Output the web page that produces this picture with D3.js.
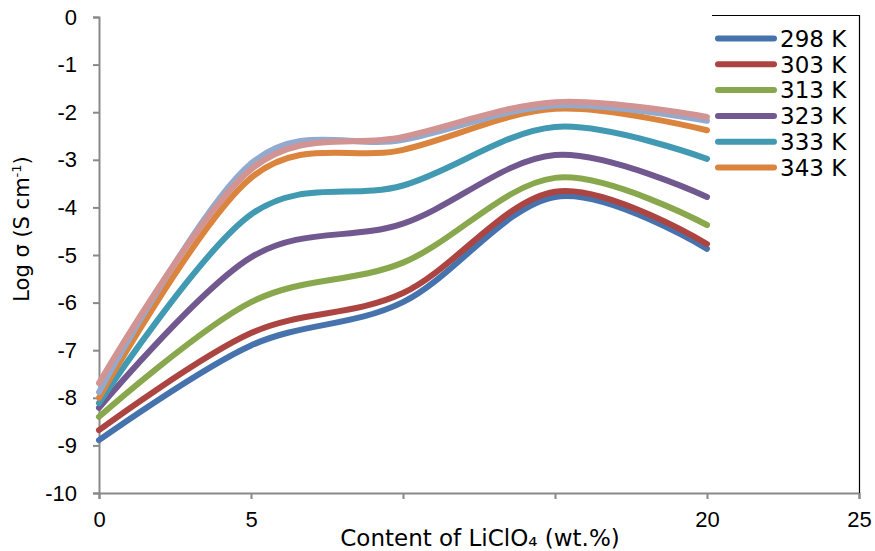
<!DOCTYPE html>
<html>
<head>
<meta charset="utf-8">
<script src="https://cdn.jsdelivr.net/npm/d3@7"></script>
<style>
  html, body { margin: 0; padding: 0; background: #fff; }
  svg { display: block; font-family: "DejaVu Sans", Verdana, sans-serif; }
</style>
</head>
<body>
<svg id="chart" width="875" height="551"></svg>
<script>
// LiClO4 content (wt.%) at which conductivity was measured
const content = [0, 5, 10, 15, 20];

// log conductivity (S cm^-1) for each temperature
const t298 = [-8.89, -6.90, -5.99, -3.78, -4.87];
const t303 = [-8.68, -6.64, -5.80, -3.67, -4.77];
const t313 = [-8.40, -5.99, -5.16, -3.38, -4.37];
const t323 = [-8.21, -5.05, -4.34, -2.90, -3.78];
const t333 = [-8.11, -4.15, -3.54, -2.31, -2.98];
const t343 = [-8.00, -3.38, -2.79, -1.93, -2.38];
const extraA = [-7.88, -3.08, -2.58, -1.86, -2.18];
const extraB = [-7.69, -3.20, -2.52, -1.79, -2.10];

const seriesNames = ["298 K", "303 K", "313 K", "323 K", "333 K", "343 K", "", ""];
const seriesValues = [t298, t303, t313, t323, t333, t343, extraA, extraB];
const seriesColors = ["#4673AE", "#AC4542", "#89A84D", "#715990", "#4199B2", "#DB843D", "#93AACF", "#D19493"];
const inLegend = [true, true, true, true, true, true, false, false];

const xTicks = [0, 5, 10, 15, 20, 25];
const xTickLabels = ["0", "5", "", "", "20", "25"];
const yTicks = [0, -1, -2, -3, -4, -5, -6, -7, -8, -9, -10];

const svg = d3.select("#chart");
const plotLeft = 99, plotRight = 859, plotTop = 17, plotBottom = 493;

const x = d3.scaleLinear().domain([0, 25]).range([plotLeft, plotRight]);
const y = d3.scaleLinear().domain([-10, 0]).range([plotBottom, plotTop]);

const axisColor = "#898989";

// y axis
const yAxis = svg.append("g")
  .attr("transform", `translate(${plotLeft},0)`)
  .call(d3.axisLeft(y).tickValues(yTicks).tickSize(6).tickPadding(16)
        .tickFormat(d => String(d)));
// x axis
const xAxis = svg.append("g")
  .attr("transform", `translate(0,${plotBottom})`)
  .call(d3.axisBottom(x).tickValues(xTicks).tickSize(6).tickPadding(12)
        .tickFormat((d, i) => xTickLabels[i]));

[yAxis, xAxis].forEach(g => {
  g.select(".domain").attr("stroke", axisColor).attr("stroke-width", 2);
  g.selectAll(".tick line").attr("stroke", axisColor).attr("stroke-width", 2);
  g.selectAll(".tick text").attr("fill", "#000").style("font-size", "22px");
});

// legend frame (top and right edges)
svg.append("path")
  .attr("d", `M712,15.5 H859.5 V${plotBottom}`)
  .attr("fill", "none").attr("stroke", "#000").attr("stroke-width", 1.2);

// smoothed curves
const line = d3.line()
  .x((d, i) => x(content[i]))
  .y(d => y(d))
  .curve(d3.curveCardinal.tension(0));

svg.append("g").selectAll("path")
  .data(seriesValues)
  .join("path")
  .attr("d", d => line(d))
  .attr("fill", "none")
  .attr("stroke", (d, i) => seriesColors[i])
  .attr("stroke-width", 6)
  .attr("stroke-linecap", "round")
  .attr("stroke-linejoin", "round");

// legend
const legendItems = seriesNames.map((n, i) => ({ n, c: seriesColors[i] })).filter((d, i) => inLegend[i]);
const lg = svg.append("g").selectAll("g").data(legendItems).join("g")
  .attr("transform", (d, i) => `translate(0,${38.5 + i * 25.8})`);
lg.append("line")
  .attr("x1", 718).attr("x2", 774).attr("y1", 0).attr("y2", 0)
  .attr("stroke", d => d.c).attr("stroke-width", 6).attr("stroke-linecap", "round");
lg.append("text")
  .attr("x", 780).attr("y", 0).attr("dy", "0.36em")
  .style("font-size", "23px")
  .text(d => d.n);

// axis titles
svg.append("text")
  .attr("x", 480).attr("y", 546)
  .attr("text-anchor", "middle")
  .style("font-size", "23px")
  .text("Content of LiClO₄ (wt.%)");

const yt = svg.append("text")
  .attr("transform", "translate(29,229) rotate(-90)")
  .attr("text-anchor", "middle")
  .style("font-size", "21px");
yt.append("tspan").text("Log σ (S cm");
yt.append("tspan").attr("dy", -8).style("font-size", "13px").text("-1");
yt.append("tspan").attr("dy", 8).text(")");
</script>
</body>
</html>
